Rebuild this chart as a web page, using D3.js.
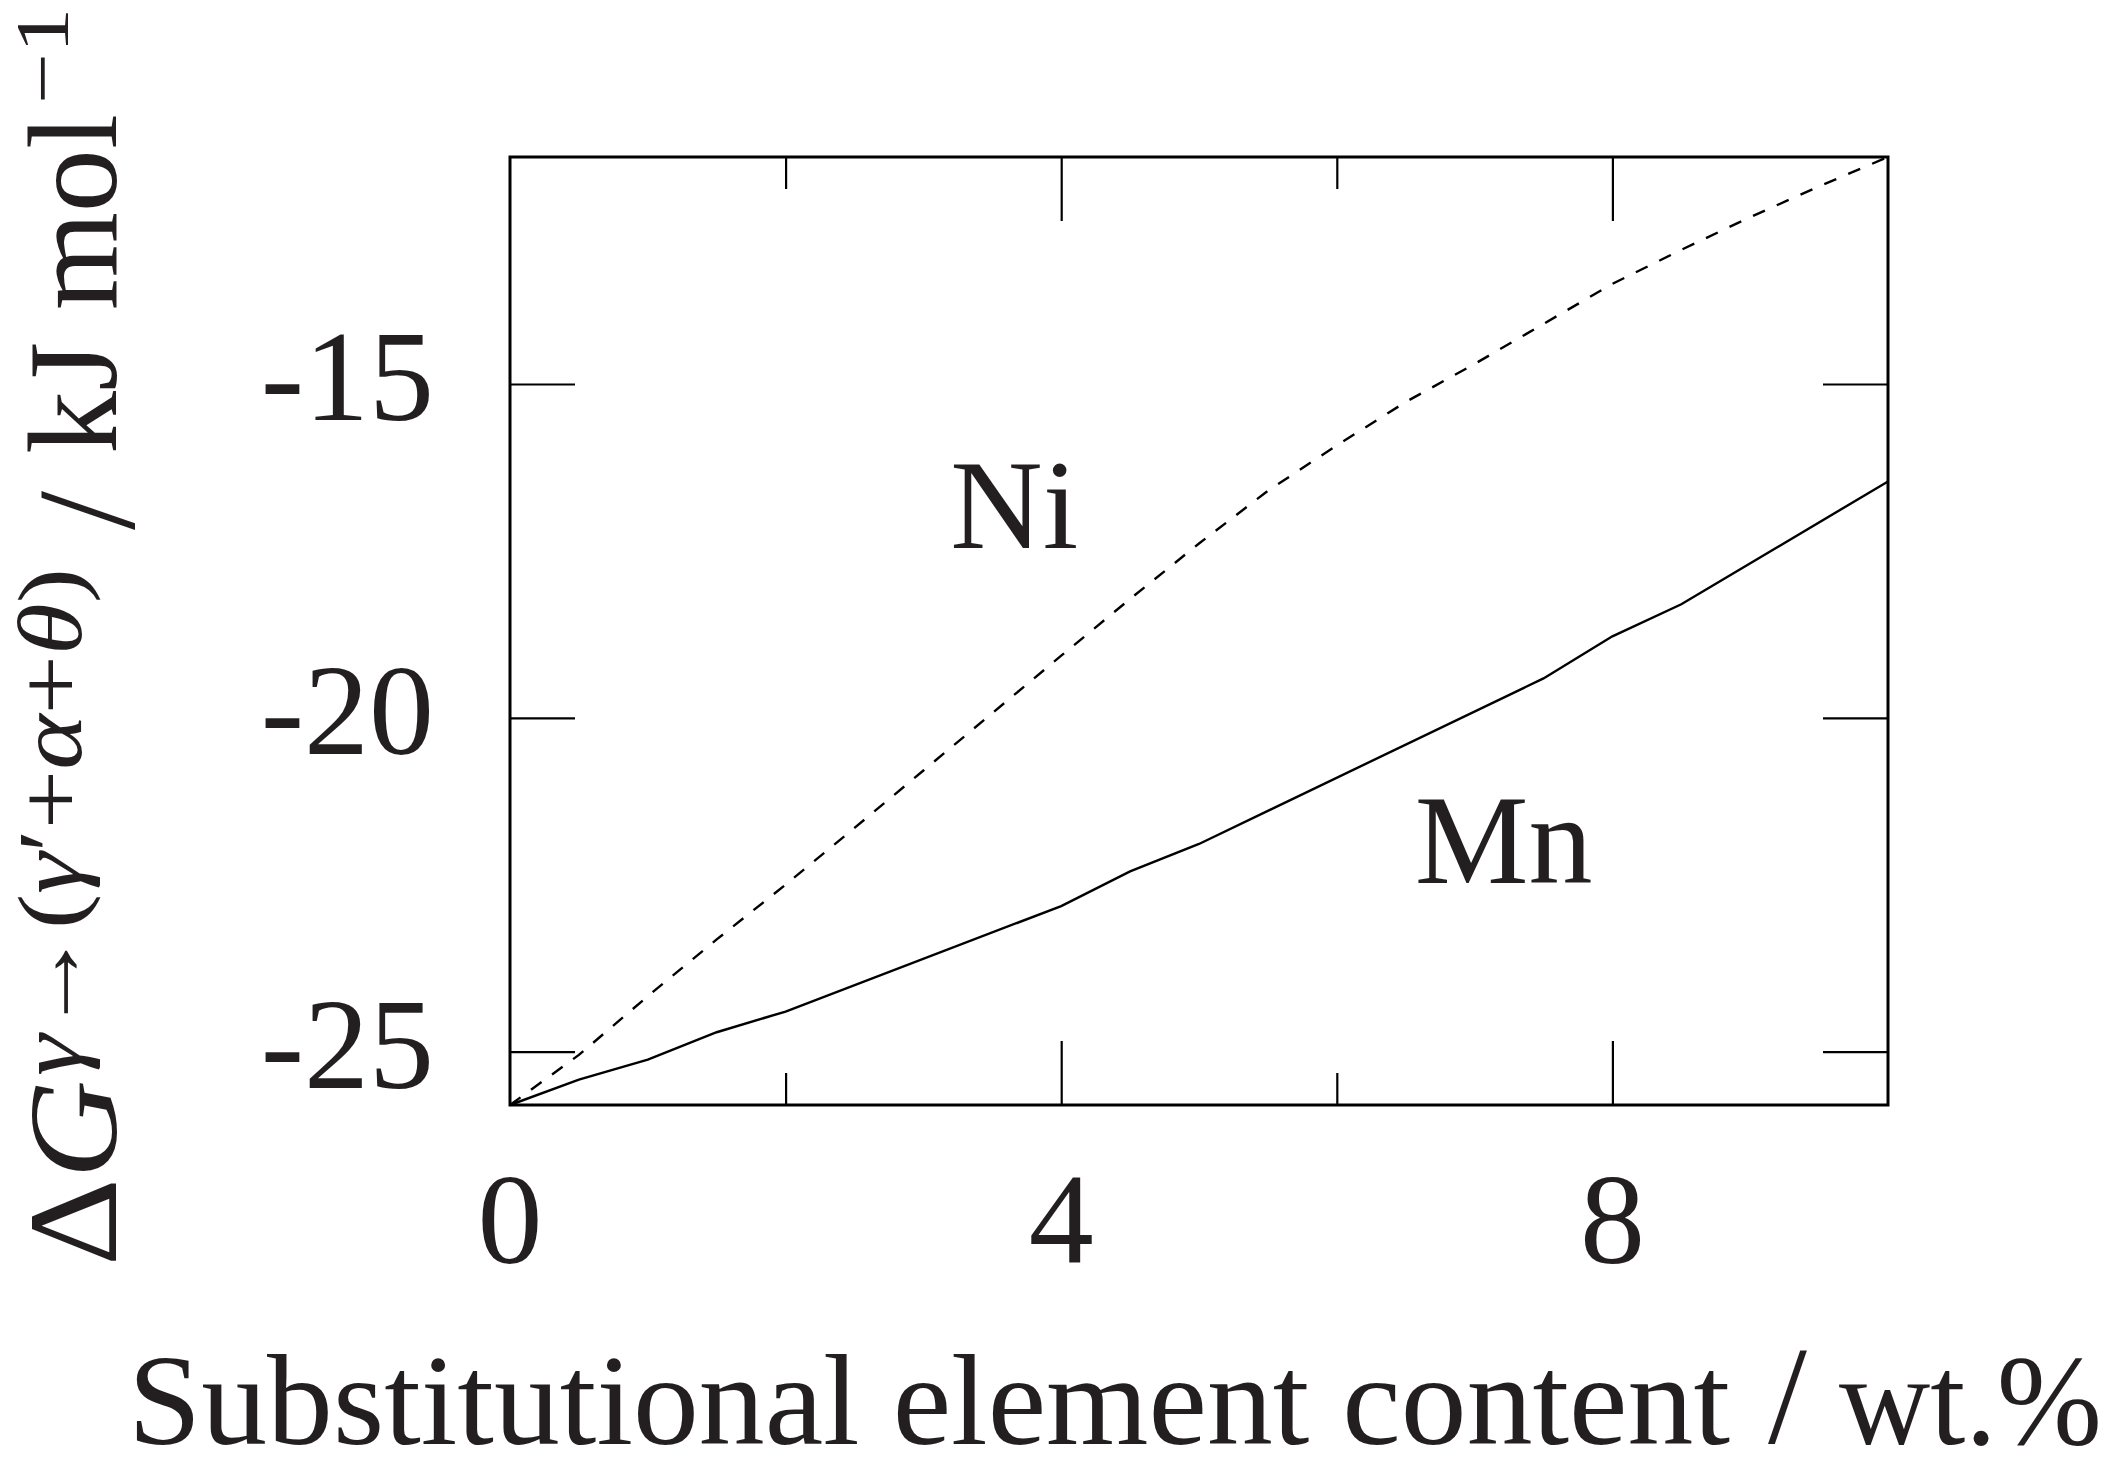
<!DOCTYPE html>
<html>
<head>
<meta charset="utf-8">
<script src="https://cdn.jsdelivr.net/npm/d3@7"></script>
<style>
  html, body { margin: 0; padding: 0; background: #fff; }
  svg { display: block; }
  text { font-family: "Liberation Serif", "Times New Roman", serif; fill: #231f20; }
</style>
</head>
<body>
<svg id="chart" width="2112" height="1474"></svg>
<script>
// Alloying content (wt.%) and free energy change (kJ/mol)
const mnContent = [0, 0.5, 1, 1.5, 2, 4, 4.5, 5, 7.5, 8, 8.5, 10];
const mnEnergy  = [-25.8, -25.42, -25.12, -24.71, -24.40, -22.82, -22.30, -21.89, -19.41, -18.78, -18.30, -16.46];

const niContent = [0, 0.5, 1, 1.5, 2, 2.5, 3, 3.5, 4, 4.5, 5, 5.5, 6, 6.5, 7, 7.5, 8, 8.5, 9, 9.5, 10];
const niEnergy  = [-25.8, -25.05, -24.17, -23.32, -22.5, -21.65, -20.79, -19.93, -19.07, -18.22, -17.39,
                   -16.6, -15.92, -15.27, -14.7, -14.1, -13.5, -12.99, -12.5, -12.04, -11.6];

const xMajorTicks = [4, 8];
const xMinorTicks = [2, 6];
const xTickLabels = [0, 4, 8];
const yTicks = [-15, -20, -25];

// curve names, anchored in data coordinates (centre of the baseline)
const seriesLabels = [
  { name: "Ni", x: 3.66, y: -17.46 },
  { name: "Mn", x: 7.21, y: -22.47 }
];

(function draw() {
  const svg = d3.select("#chart");
  const plotL = 510, plotR = 1888, plotT = 157, plotB = 1105;

  const x = d3.scaleLinear().domain([0, 10]).range([plotL, plotR]);
  const y = d3.scaleLinear().domain([-25.8, -11.6]).range([plotB, plotT]);

  // tick marks pointing into the plot on all four sides
  function ticks(axis, transform) {
    const g = svg.append("g").attr("transform", transform).call(axis);
    g.select(".domain").remove();
    g.selectAll(".tick line").attr("stroke", "#000").attr("stroke-width", 2.2);
    g.selectAll(".tick text").remove();
    return g;
  }
  ticks(d3.axisBottom(x).tickValues(xMajorTicks).tickSize(-64), `translate(0,${plotB})`);
  ticks(d3.axisBottom(x).tickValues(xMinorTicks).tickSize(-32), `translate(0,${plotB})`);
  ticks(d3.axisTop(x).tickValues(xMajorTicks).tickSize(-64), `translate(0,${plotT})`);
  ticks(d3.axisTop(x).tickValues(xMinorTicks).tickSize(-32), `translate(0,${plotT})`);
  ticks(d3.axisLeft(y).tickValues(yTicks).tickSize(-65), `translate(${plotL},0)`);
  ticks(d3.axisRight(y).tickValues(yTicks).tickSize(-65), `translate(${plotR},0)`);

  // frame
  svg.append("rect")
    .attr("x", plotL).attr("y", plotT)
    .attr("width", plotR - plotL).attr("height", plotB - plotT)
    .attr("fill", "none").attr("stroke", "#000").attr("stroke-width", 3);

  // curves
  const line = d3.line().x(d => x(d[0])).y(d => y(d[1]));
  svg.append("path")
    .datum(d3.zip(niContent, niEnergy))
    .attr("d", line)
    .attr("fill", "none").attr("stroke", "#000")
    .attr("stroke-width", 2.4).attr("stroke-dasharray", "13,13");
  svg.append("path")
    .datum(d3.zip(mnContent, mnEnergy))
    .attr("d", line)
    .attr("fill", "none").attr("stroke", "#000")
    .attr("stroke-width", 2.4);

  // tick labels
  svg.selectAll("text.xt").data(xTickLabels).enter().append("text")
    .attr("class", "xt")
    .attr("x", d => x(d)).attr("y", plotB + 158)
    .attr("text-anchor", "middle").attr("font-size", 130)
    .text(d => d);
  svg.selectAll("text.yt").data(yTicks).enter().append("text")
    .attr("class", "yt")
    .attr("x", plotL - 76).attr("y", d => y(d) + 36)
    .attr("text-anchor", "end").attr("font-size", 130)
    .text(d => "-" + Math.abs(d));

  // series labels
  svg.selectAll("text.sl").data(seriesLabels).enter().append("text")
    .attr("class", "sl")
    .attr("x", d => x(d.x)).attr("y", d => y(d.y))
    .attr("text-anchor", "middle").attr("font-size", 128)
    .text(d => d.name);

  // x axis title
  svg.append("text").attr("x", 128).attr("y", 1444).attr("font-size", 130)
    .attr("textLength", 1602).attr("lengthAdjust", "spacingAndGlyphs")
    .text("Substitutional element content");
  svg.append("text").attr("x", 1768).attr("y", 1443).attr("font-size", 140)
    .text("/");
  svg.append("text").attr("x", 1839).attr("y", 1444).attr("font-size", 130)
    .attr("textLength", 263).attr("lengthAdjust", "spacingAndGlyphs")
    .text("wt.%");

  // y axis title, written bottom to top
  const yt = svg.append("g").attr("transform", "translate(116,1266) rotate(-90)");
  yt.append("text").attr("x", 0).attr("y", 0).attr("font-size", 128)
    .attr("textLength", 186).attr("lengthAdjust", "spacingAndGlyphs")
    .html('Δ<tspan font-style="italic">G</tspan>');
  yt.append("text").attr("x", 190).attr("y", -35).attr("font-size", 90)
    .attr("textLength", 508).attr("lengthAdjust", "spacingAndGlyphs")
    .html('<tspan font-style="italic">γ</tspan>→(<tspan font-style="italic">γ</tspan>′+<tspan font-style="italic">α</tspan>+<tspan font-style="italic">θ</tspan>)');
  yt.append("text").attr("x", 736).attr("y", 18).attr("font-size", 140)
    .text("/");
  yt.append("text").attr("x", 812).attr("y", 0).attr("font-size", 128)
    .attr("textLength", 340).attr("lengthAdjust", "spacingAndGlyphs")
    .text("kJ mol");
  yt.append("text").attr("x", 1162).attr("y", -48).attr("font-size", 76)
    .attr("textLength", 96).attr("lengthAdjust", "spacingAndGlyphs")
    .text("−1");
})();
</script>
</body>
</html>
